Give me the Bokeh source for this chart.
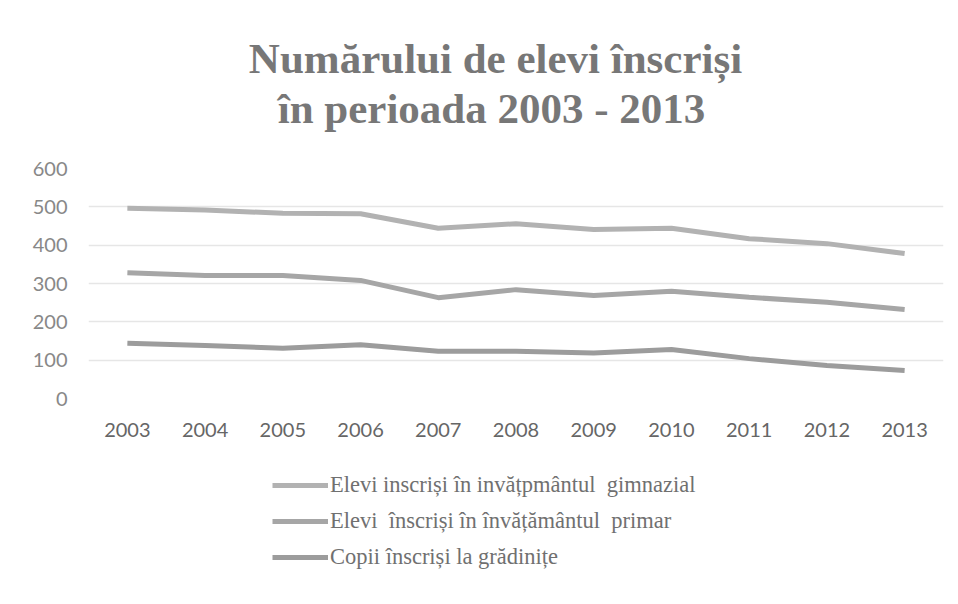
from bokeh.plotting import figure
from bokeh.layouts import column
from bokeh.models import Label, Legend, LegendItem, FactorRange, Range1d
from bokeh.embed import file_html
from bokeh.resources import INLINE

years = ["2003", "2004", "2005", "2006", "2007", "2008", "2009", "2010", "2011", "2012", "2013"]
gimnazial = [496, 492, 483, 482, 444, 456, 441, 444, 417, 404, 378]
primar = [328, 321, 321, 308, 263, 284, 269, 280, 264, 251, 232]
gradinite = [144, 138, 131, 140, 123, 123, 119, 128, 104, 86, 73]
y_ticks = [0, 100, 200, 300, 400, 500, 600]

labels = ["Elevi inscriși în invățpmântul  gimnazial",
          "Elevi  înscriși în învățământul  primar",
          "Copii înscriși la grădinițe"]
title1 = "Numărului de elevi înscriși"
title2 = "în perioada 2003 - 2013"
colors = ["#b2b2b2", "#a6a6a6", "#9c9c9c"]


def blank(height):
    f = figure(width=948, height=height, x_range=Range1d(0, 1), y_range=Range1d(0, 1),
               output_backend="svg", toolbar_location=None, x_axis_type=None, y_axis_type=None,
               min_border=0)
    f.outline_line_color = None
    f.xgrid.grid_line_color = None
    f.ygrid.grid_line_color = None
    return f


# title strip (its frame is aligned with the chart frame by the column layout)
t = blank(150)
for txt, sx, sy in ((title1, 407, 92), (title2, 403, 42)):
    t.add_layout(Label(x=sx, y=sy, x_units="screen", y_units="screen", text=txt,
                       text_align="center", text_baseline="alphabetic",
                       text_font="Liberation Serif", text_font_size="43px",
                       text_font_style="bold", text_color="#777777"))

p = figure(width=948, height=300, x_range=FactorRange(*years), y_range=Range1d(0, 600),
           output_backend="svg", toolbar_location=None, title=None,
           min_border_left=88, min_border_right=5, min_border_top=18, min_border_bottom=52)

p.line(years, gimnazial, line_color=colors[0], line_width=5)
p.line(years, primar, line_color=colors[1], line_width=5)
p.line(years, gradinite, line_color=colors[2], line_width=5)

p.outline_line_color = None
p.xgrid.grid_line_color = None
p.ygrid.grid_line_color = "#e6e6e6"
p.ygrid.grid_line_width = 1.5
p.yaxis.ticker = y_ticks
for ax in (p.xaxis, p.yaxis):
    ax.axis_line_color = None
    ax.major_tick_line_color = None
    ax.minor_tick_line_color = None
    ax.major_tick_out = 0
    ax.major_tick_in = 0
    ax.minor_tick_out = 0
    ax.major_label_text_font = "Lato"
    ax.major_label_text_font_size = "20px"
p.xaxis.major_label_text_color = "#666666"
p.yaxis.major_label_text_color = "#888888"
p.xaxis.major_label_standoff = 24
p.yaxis.major_label_standoff = 21

# legend strip
q = blank(150)
# stand-in renderers for the legend keys, kept outside the visible range
lr = [q.line([-3, -2], [-3, -2], line_color=c, line_width=5) for c in colors]

legend = Legend(items=[LegendItem(label=labels[i], renderers=[lr[i]]) for i in range(3)],
                orientation="vertical", location=(184, 30),
                label_text_font="Liberation Serif", label_text_font_size="22.5px",
                label_text_color="#707070", glyph_width=56, glyph_height=24, label_height=24,
                label_standoff=2, spacing=10, padding=0, margin=0,
                border_line_color=None, background_fill_alpha=0)
q.add_layout(legend, "center")

layout = column(t, p, q, spacing=0)
open("out.html", "w").write(file_html(layout, INLINE))
